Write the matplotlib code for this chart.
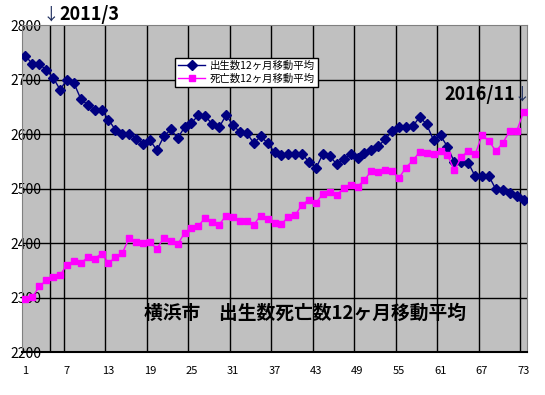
import matplotlib.pyplot as plt
import numpy as np

plt.rcParams['font.family'] = ['Noto Sans CJK JP', 'DejaVu Sans']

# 12-month moving averages, Yokohama, 2010/11 .. 2016/11 (index 1..73)
births = [2744, 2729, 2729, 2718, 2704, 2682, 2700, 2694, 2665, 2654,
          2645, 2645, 2627, 2608, 2601, 2601, 2592, 2583, 2589, 2571,
          2596, 2609, 2593, 2613, 2621, 2635, 2634, 2618, 2613, 2635,
          2617, 2604, 2602, 2584, 2596, 2584, 2567, 2562, 2564, 2564,
          2564, 2549, 2538, 2564, 2560, 2545, 2554, 2564, 2556, 2566,
          2571, 2578, 2591, 2606, 2613, 2613, 2615, 2632, 2618, 2589,
          2598, 2577, 2549, 2549, 2548, 2523, 2523, 2523, 2499, 2497,
          2492, 2487, 2480]
deaths = [2297, 2301, 2321, 2332, 2339, 2341, 2361, 2367, 2364, 2374,
          2372, 2381, 2364, 2374, 2382, 2410, 2402, 2400, 2402, 2390,
          2410, 2405, 2398, 2419, 2428, 2432, 2447, 2439, 2434, 2451,
          2448, 2440, 2441, 2434, 2451, 2445, 2438, 2435, 2449, 2452,
          2471, 2480, 2474, 2491, 2495, 2488, 2502, 2507, 2504, 2516,
          2533, 2530, 2535, 2533, 2520, 2539, 2552, 2568, 2566, 2563,
          2570, 2562, 2534, 2558, 2570, 2563, 2598, 2588, 2569, 2584,
          2606, 2606, 2640]
x_ticks = [1, 7, 13, 19, 25, 31, 37, 43, 49, 55, 61, 67, 73]
y_ticks = [2200, 2300, 2400, 2500, 2600, 2700, 2800]
labels = ['出生数12ヶ月移動平均', '死亡数12ヶ月移動平均']
title = '横浜市　出生数死亡数12ヶ月移動平均'

x = np.arange(1, len(births) + 1)

fig = plt.figure(figsize=(5.45, 3.95), dpi=100)
ax = fig.add_axes([22 / 545, 1 - 352.3 / 395, 505 / 545, (352.3 - 25.3) / 395])
ax.set_facecolor('#C0C0C0')

ax.set_xlim(0.5, len(x) + 0.5)
ax.set_ylim(2200, 2800)

# grid: horizontal every 100, vertical every 6 categories + 2011/3 marker
for v in y_ticks[1:-1]:
    ax.axhline(v, color='black', lw=1.0, zorder=1)
for b in list(np.arange(6.5, 73, 6)) + [4.5]:
    ax.axvline(b, color='black', lw=1.0, zorder=1)

ax.plot(x, births, color='#000080', lw=1, marker='D', markersize=5,
        label=labels[0], zorder=3)
ax.plot(x, deaths, color='#FF00FF', lw=1, marker='s', markersize=5,
        label=labels[1], zorder=3)

for s in ['left', 'right', 'top']:
    ax.spines[s].set_color('#808080')
ax.spines['bottom'].set_color('black')
ax.spines['bottom'].set_linewidth(1.5)

ax.set_xticks(x_ticks)
ax.set_xticklabels([str(t) for t in x_ticks], fontsize=8)
ax.set_yticks(y_ticks)
ax.set_yticklabels([str(t) for t in y_ticks], fontsize=10)
ax.tick_params(axis='x', length=0, pad=10)
ax.tick_params(axis='y', length=0, pad=-14)

leg = ax.legend(loc='upper left', bbox_to_anchor=(148 / 505, 1 - 27 / 327),
                fontsize=7.5, frameon=True, fancybox=False, framealpha=1,
                edgecolor='black', borderpad=0.3, handlelength=2.6,
                labelspacing=0.3, handletextpad=0.4)
leg.get_frame().set_linewidth(1.0)

ax.text(0.56, 0.12, title, transform=ax.transAxes, ha='center', va='center',
        fontsize=13.5, fontweight='bold')

fig.text(51 / 545, 1 - 15 / 395, '↓', fontsize=12, color='#1F2F5F',
         ha='center', va='center')
fig.text(59 / 545, 1 - 15 / 395, '2011/3', fontsize=13, fontweight='bold',
         ha='left', va='center')
fig.text(515 / 545, 1 - 95 / 395, '2016/11', fontsize=13, fontweight='bold',
         ha='right', va='center')
fig.text(522 / 545, 1 - 95 / 395, '↓', fontsize=12, color='#1F2F5F',
         ha='center', va='center')

fig.savefig('out.png', dpi=100)
